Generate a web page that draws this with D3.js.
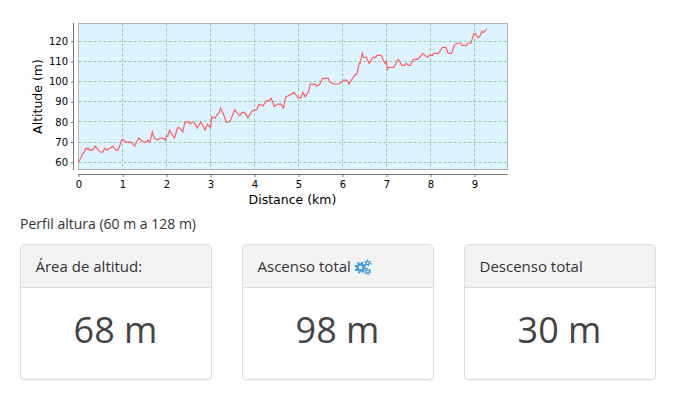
<!DOCTYPE html>
<html>
<head>
<meta charset="utf-8">
<script src="https://cdn.jsdelivr.net/npm/d3@7"></script>
<style>
html, body { margin: 0; padding: 0; background: #fff; }
svg { display: block; }
</style>
</head>
<body>
<div id="container"></div>
<script>
let w = 678;
let h = 395;

// altitude profile
let distances = [0,0.05,0.09,0.13,0.17,0.2,0.22,0.25,0.32,0.38,0.45,0.5,0.55,0.6,0.65,0.7,0.73,0.77,0.85,0.9,0.95,0.98,1.03,1.08,1.2,1.25,1.28,1.32,1.37,1.42,1.48,1.55,1.58,1.62,1.68,1.72,1.8,1.85,1.92,1.97,2,2.03,2.07,2.12,2.18,2.25,2.3,2.37,2.42,2.5,2.53,2.6,2.65,2.7,2.78,2.83,2.88,2.93,3,3.03,3.11,3.14,3.18,3.23,3.3,3.36,3.41,3.46,3.55,3.6,3.66,3.73,3.78,3.85,3.92,3.96,4.05,4.1,4.2,4.27,4.32,4.38,4.45,4.52,4.6,4.66,4.7,4.72,4.81,4.9,4.98,5.05,5.1,5.15,5.23,5.27,5.38,5.4,5.47,5.55,5.68,5.7,5.78,5.93,6.02,6.1,6.15,6.21,6.29,6.33,6.38,6.4,6.45,6.48,6.54,6.61,6.69,6.76,6.78,6.88,6.93,6.97,7,7.02,7.05,7.17,7.26,7.29,7.35,7.41,7.45,7.5,7.54,7.61,7.71,7.74,7.82,7.88,7.93,7.97,8.05,8.07,8.18,8.27,8.35,8.39,8.42,8.48,8.54,8.6,8.69,8.71,8.82,8.85,8.92,8.98,9.02,9.07,9.11,9.17,9.2,9.28];
let altitudes = [60,62,64,65,67,66.5,67,66,66,68,66,65,65,67,66,67,67,68,66,66,69,71,71,70,70,68.5,68,70,72,71,70,70,71,70,75,72,71,72,72,71,73,73,76,74,72,77,77,75,80,80,79,80,79,77,80,78,76,79,77,82.6,81.8,83.5,84,86.8,83.5,79.8,80,81,86,84.6,83,84.8,84.6,82,84.6,85.6,86,88.8,88,90.5,90.4,91.7,87.6,88.8,88.8,86.8,91.7,92.5,93.4,94.7,92.2,91.7,94.7,92.5,95,98.7,98.7,97.8,98.3,101.6,101.6,100,98.8,98.8,100.7,100.7,98.7,101,103.6,103.8,109,109,114,112,112,109,112,112,113,113,110.4,109,110,106,107,107,111,110.4,108,108,109,108,108,111,111,111.6,114,113,112,113,113,114,114,117,117,114.4,114,114,118,119,119,118,118,119,119,123.6,124,122,122,125,124.3,126];

let xTicks = [0,1,2,3,4,5,6,7,8,9];
let yTicks = [60,70,80,90,100,110,120];
let cardTitles = ["Área de altitud:", "Ascenso total", "Descenso total"];
let cardValues = ["68 m", "98 m", "30 m"];

let plotLeft = 78.5, plotRight = 507.5, plotTop = 23.5, plotBottom = 169.5;

let svg = d3.select("div#container")
  .append("svg")
  .attr("width", w)
  .attr("height", h)
  .attr("viewBox", "0 0 "+w+" "+h);

let xScale = d3.scaleLinear().domain([0, 9.75]).range([plotLeft, plotRight]);
let yScale = d3.scaleLinear().domain([56.4, 128.8]).range([plotBottom, plotTop]);

// plot background
svg.append("rect")
  .attr("x", plotLeft)
  .attr("y", plotTop)
  .attr("width", plotRight-plotLeft)
  .attr("height", plotBottom-plotTop)
  .attr("fill", "#ddf3ff");

// grid
svg.selectAll(".vgrid").data(xTicks).enter()
  .append("line")
  .attr("class", "vgrid")
  .attr("x1", function(d){ return Math.floor(xScale(d))+0.5; })
  .attr("x2", function(d){ return Math.floor(xScale(d))+0.5; })
  .attr("y1", plotTop)
  .attr("y2", plotBottom)
  .attr("stroke", function(d){ return d == 0 ? "#7a86b8" : "#94cba8"; })
  .attr("stroke-dasharray", "3,2");

svg.selectAll(".hgrid").data(yTicks).enter()
  .append("line")
  .attr("class", "hgrid")
  .attr("x1", plotLeft)
  .attr("x2", plotRight)
  .attr("y1", function(d){ return Math.floor(yScale(d))+0.5; })
  .attr("y2", function(d){ return Math.floor(yScale(d))+0.5; })
  .attr("stroke", "#94cba8")
  .attr("stroke-dasharray", "3,2");

svg.append("rect")
  .attr("x", plotLeft)
  .attr("y", plotTop)
  .attr("width", plotRight-plotLeft)
  .attr("height", plotBottom-plotTop)
  .attr("fill", "none")
  .attr("stroke", "#aeb4b8");

// profile line
let lineMaker = d3.line()
  .x(function(d){ return xScale(d); })
  .y(function(d, i){ return yScale(altitudes[i]); });

svg.append("path")
  .attr("d", lineMaker(distances))
  .attr("fill", "none")
  .attr("stroke", "#ff6066")
  .attr("stroke-width", 1.2);

// axes
let xAxis = d3.axisBottom(xScale).tickValues(xTicks).tickSize(3).tickSizeOuter(0).tickPadding(4);
let xAxisGroup = svg.append("g")
  .attr("class", "xaxisgroup")
  .attr("transform", "translate(0,174)")
  .call(xAxis);
xAxisGroup.select(".domain").attr("d", "M78.5,0.5H507.5").attr("stroke", "#777");

let yAxis = d3.axisLeft(yScale).tickValues(yTicks).tickSize(2).tickSizeOuter(0).tickPadding(3);
let yAxisGroup = svg.append("g")
  .attr("class", "yaxisgroup")
  .attr("transform", "translate(73,0)")
  .call(yAxis);
yAxisGroup.select(".domain").attr("d", "M0.5,23V170").attr("stroke", "#777");

svg.selectAll(".tick line").attr("stroke", "#777");
svg.selectAll(".tick text")
  .attr("font-family", "DejaVu Sans")
  .attr("font-size", 10)
  .attr("fill", "#000");

svg.append("text")
  .text("Distance (km)")
  .attr("x", 292.5)
  .attr("y", 204)
  .attr("text-anchor", "middle")
  .attr("font-family", "DejaVu Sans")
  .attr("font-size", 12.5);

svg.append("text")
  .text("Altitude (m)")
  .attr("transform", "translate(42,96.5) rotate(-90)")
  .attr("text-anchor", "middle")
  .attr("font-family", "DejaVu Sans")
  .attr("font-size", 12.5);

svg.append("text")
  .text("Perfil altura (60 m a 128 m)")
  .attr("x", 20)
  .attr("y", 229)
  .attr("font-family", "Open Sans")
  .attr("font-size", 14)
  .attr("fill", "#333");

// cards
let cardWidth = 191;
let cardX = d3.scaleOrdinal().domain(cardTitles).range([20.5, 242.5, 464.5]);

let cards = svg.selectAll(".card").data(cardTitles).enter()
  .append("g")
  .attr("class", "card")
  .attr("transform", function(d){ return "translate("+cardX(d)+",244.5)"; });

// soft shadow under the card
cards.append("rect")
  .attr("y", 1)
  .attr("width", cardWidth)
  .attr("height", 135)
  .attr("rx", 4)
  .attr("fill", "none")
  .attr("stroke", "#f0f0f0");

cards.append("rect")
  .attr("width", cardWidth)
  .attr("height", 135)
  .attr("rx", 4)
  .attr("fill", "#fff")
  .attr("stroke", "#ddd");

cards.append("path")
  .attr("d", "M0.5,43V4Q0.5,0.5 4,0.5H"+(cardWidth-4)+"Q"+(cardWidth-0.5)+",0.5 "+(cardWidth-0.5)+",4V43Z")
  .attr("fill", "#f3f3f3");

cards.append("line")
  .attr("x1", 0)
  .attr("x2", cardWidth)
  .attr("y1", 43)
  .attr("y2", 43)
  .attr("stroke", "#ddd");

cards.append("text")
  .text(function(d){ return d; })
  .attr("x", 15)
  .attr("y", 27)
  .attr("font-family", "Open Sans")
  .attr("font-size", 15)
  .attr("fill", "#333");

cards.append("text")
  .text(function(d, i){ return cardValues[i]; })
  .attr("x", cardWidth/2 - 0.5)
  .attr("y", 98)
  .attr("text-anchor", "middle")
  .attr("font-family", "Open Sans")
  .attr("font-size", 36)
  .attr("fill", "#444");

// cogs next to Ascenso total
let cogs = svg.append("g").attr("class", "cogs").attr("transform", "translate(355,260)");
let cogList = [
  {x: 5.5, y: 7.5, ring: 3.2, ringWidth: 2.2, teeth: 5, teethWidth: 1.8, dash: "2,1.93"},
  {x: 12.7, y: 3, ring: 1.7, ringWidth: 1.2, teeth: 2.9, teethWidth: 1.2, dash: "1.5,1.54"},
  {x: 12.7, y: 11.5, ring: 1.7, ringWidth: 1.2, teeth: 2.9, teethWidth: 1.2, dash: "1.5,1.54"}
];
cogs.selectAll("circle.ring").data(cogList).enter()
  .append("circle")
  .attr("class", "ring")
  .attr("cx", function(d){ return d.x; })
  .attr("cy", function(d){ return d.y; })
  .attr("r", function(d){ return d.ring; })
  .attr("fill", "none")
  .attr("stroke", "#3498db")
  .attr("stroke-width", function(d){ return d.ringWidth; });
cogs.selectAll("circle.teeth").data(cogList).enter()
  .append("circle")
  .attr("class", "teeth")
  .attr("cx", function(d){ return d.x; })
  .attr("cy", function(d){ return d.y; })
  .attr("r", function(d){ return d.teeth; })
  .attr("fill", "none")
  .attr("stroke", "#3498db")
  .attr("stroke-width", function(d){ return d.teethWidth; })
  .attr("stroke-dasharray", function(d){ return d.dash; });
</script>
</body>
</html>
